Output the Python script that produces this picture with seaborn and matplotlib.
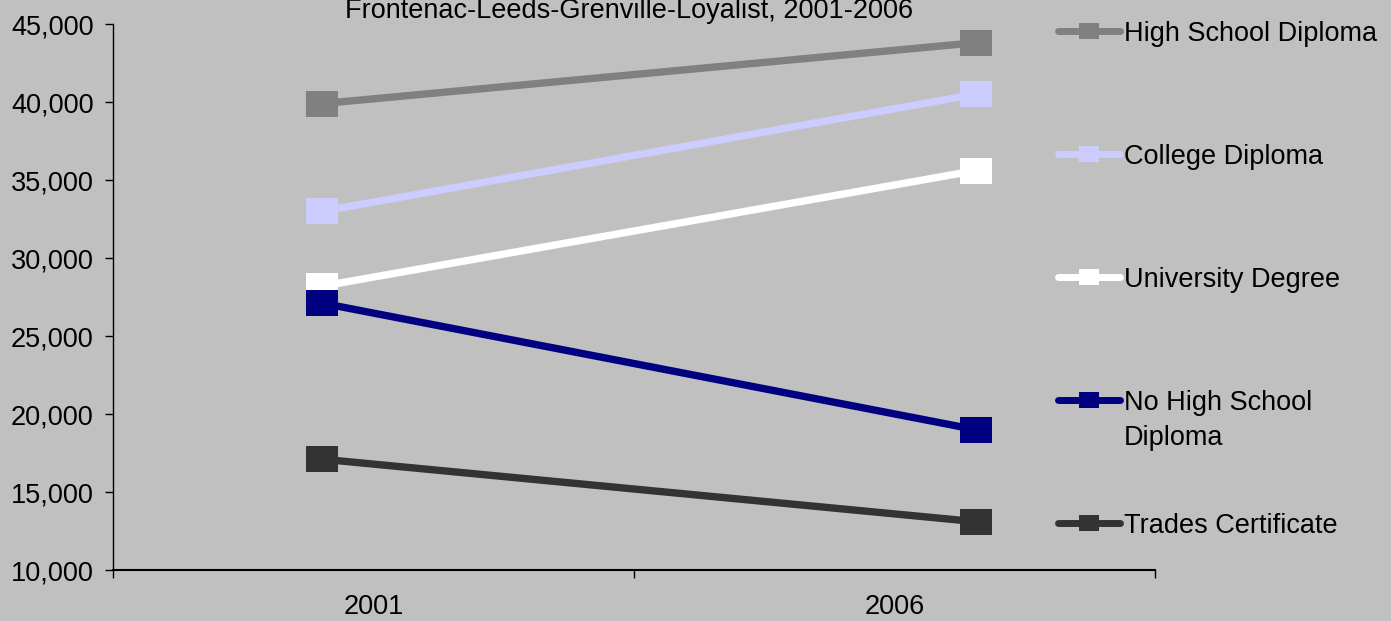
import matplotlib
matplotlib.use("Agg")
import matplotlib.pyplot as plt
from matplotlib.lines import Line2D
from matplotlib.ticker import FuncFormatter, FixedLocator
import numpy as np
import pandas as pd
import seaborn as sns

# data
years = [2001, 2006]
levels = ["High School Diploma", "College Diploma", "University Degree",
          "No High School Diploma", "Trades Certificate"]
legend_labels = ["High School Diploma", "College Diploma", "University Degree",
                 "No High School\nDiploma", "Trades Certificate"]
high_school = [39900, 43800]
college = [33000, 40500]
university = [28200, 35600]
no_high_school = [27100, 19000]
trades = [17100, 13100]
colors = ["#808080", "#CCCCFF", "#FFFFFF", "#000080", "#333333"]

title_text = "Frontenac-Leeds-Grenville-Loyalist, 2001-2006"

# long table for seaborn
rows = []
for name, vals in zip(levels, [high_school, college, university, no_high_school, trades]):
    for yr, v in zip(years, vals):
        rows.append({"year": yr, "students": v, "level": name})
df = pd.DataFrame(rows)

sns.set_theme(style="white")
plt.rcParams["font.family"] = ["Liberation Sans", "DejaVu Sans"]
bg = "#C0C0C0"

fig = plt.figure(figsize=(13.91, 6.21), dpi=100, facecolor=bg)
W, H = 1391, 621
ax = fig.add_axes([113 / W, 1 - 570 / H, (1155 - 113) / W, (570 - 24) / H])
ax.set_facecolor(bg)

# slightly wider-than-tall square markers like the original
rect = [(-1, -0.8), (1, -0.8), (1, 0.8), (-1, 0.8), (-1, -0.8)]
sns.lineplot(data=df, x="year", y="students", hue="level", hue_order=levels,
             palette=colors, marker=rect, markersize=23.5, markeredgewidth=0,
             linewidth=5.3, legend=False, sort=False, ax=ax)

ax.set_ylim(10000, 45000)
ax.set_yticks(np.arange(10000, 45001, 5000))
ax.yaxis.set_major_formatter(FuncFormatter(lambda v, p: f"{int(v):,}"))

# category style x axis: boundaries get tick marks, labels sit in between
xlim = (1999.396, 2007.374)
ax.set_xlim(*xlim)
bounds = np.linspace(xlim[0], xlim[1], 3)
centers = (bounds[:-1] + bounds[1:]) / 2
ax.xaxis.set_major_locator(FixedLocator(centers))
ax.set_xticklabels([str(y) for y in years])
ax.xaxis.set_minor_locator(FixedLocator(bounds))
ax.tick_params(axis="x", which="major", length=0, pad=17, labelsize=19.5, colors="black")
ax.tick_params(axis="x", which="minor", length=6, width=1, direction="out",
               bottom=True, color="black")
ax.tick_params(axis="y", length=6, width=1, direction="out", left=True,
               pad=8, labelsize=19.5, colors="black")

ax.set_xlabel("")
ax.set_ylabel("")
for s in ["top", "right"]:
    ax.spines[s].set_visible(False)
ax.spines["left"].set_color("black")
ax.spines["left"].set_linewidth(1)
ax.spines["bottom"].set_color("black")
ax.spines["bottom"].set_linewidth(1.5)
ax.grid(False)

# title line (top line is cut off in the original)
fig.text(629 / W, 1 - 18 / H, title_text, ha="center", va="baseline",
         fontsize=19.5, color="black")

# legend on the right, entries evenly spaced
rows_y = np.linspace(31, 523, 5)
for lab, col, yp in zip(legend_labels, colors, rows_y):
    yf = 1 - yp / H
    fig.add_artist(Line2D([1058 / W, 1120 / W], [yf, yf], transform=fig.transFigure,
                          color=col, linewidth=5, solid_capstyle="round"))
    fig.add_artist(Line2D([1089 / W], [yf], transform=fig.transFigure, color=col,
                          marker=rect, markersize=14, markeredgewidth=0, linestyle="none"))
    fig.text(1124 / W, 1 - (yp - 10) / H, lab, ha="left", va="top",
             fontsize=19.5, color="black", linespacing=1.45)

fig.savefig("out.png", dpi=100, facecolor=bg)
